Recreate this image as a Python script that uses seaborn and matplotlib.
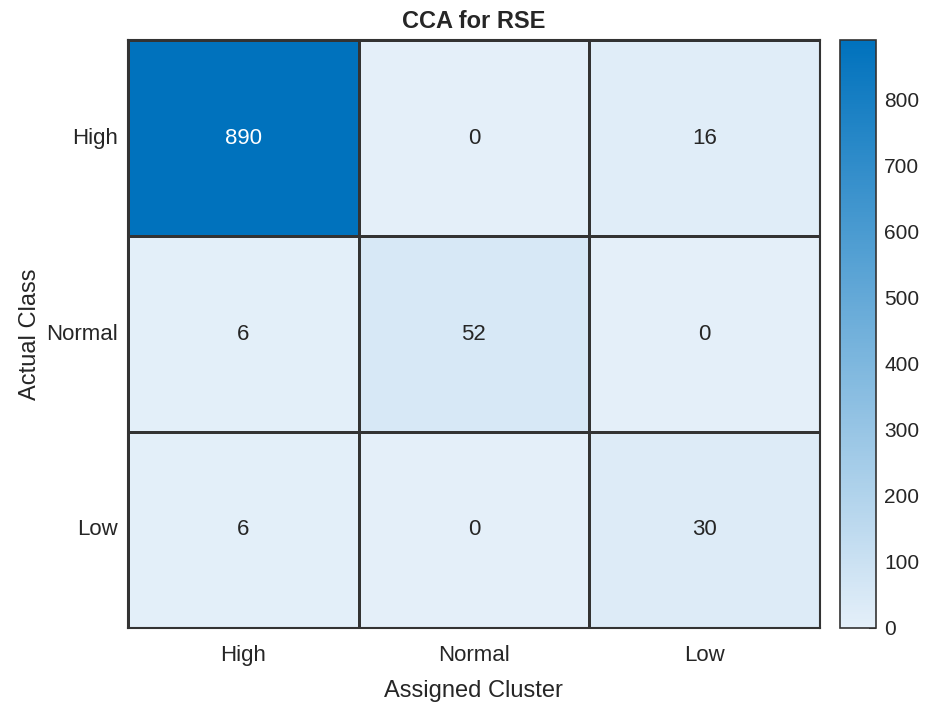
import numpy as np
import pandas as pd
import matplotlib
matplotlib.use("Agg")
import matplotlib.pyplot as plt
from matplotlib.colors import LinearSegmentedColormap
import seaborn as sns

classes = ["High", "Normal", "Low"]
row_high = [890, 0, 16]
row_normal = [6, 52, 0]
row_low = [6, 0, 30]

counts = pd.DataFrame([row_high, row_normal, row_low], index=classes, columns=classes)

sns.set_theme(style="white")
plt.rcParams["font.family"] = ["Liberation Sans", "DejaVu Sans"]

text_color = "#262626"
edge_color = "#333333"
cmap = LinearSegmentedColormap.from_list("blues", ["#E4EFF9", "#0072BD"])

fig = plt.figure(figsize=(9.27, 7.04), dpi=100)
ax = fig.add_axes([0.138, 0.108, 0.7465, 0.835])
cax = fig.add_axes([0.906, 0.108, 0.039, 0.835])

vmax = counts.values.max()
sns.heatmap(counts, ax=ax, cbar_ax=cax, cmap=cmap, vmin=0, vmax=vmax,
            annot=False, linewidths=1.0, linecolor=edge_color, square=False)

# Cell labels: white on dark cells, dark text elsewhere
for i, r in enumerate(classes):
    for j, c in enumerate(classes):
        v = counts.loc[r, c]
        color = "white" if v > 0.6 * vmax else text_color
        ax.text(j + 0.5, i + 0.5, f"{v}", ha="center", va="center",
                fontsize=16, color=color)

for side in ax.spines.values():
    side.set_visible(True)
    side.set_color(edge_color)
    side.set_linewidth(1.5)

ax.tick_params(axis="both", length=0, labelsize=16, colors=text_color)
ax.tick_params(axis="y", pad=7)
ax.tick_params(axis="x", pad=12)
ax.set_yticklabels(classes, rotation=0)
ax.set_xticklabels(classes, rotation=0)
ax.set_xlabel("Assigned Cluster", fontsize=17, color=text_color, labelpad=10)
ax.set_ylabel("Actual Class", fontsize=17, color=text_color, labelpad=4)
ax.set_title("CCA for RSE", fontsize=17, fontweight="bold", color=text_color, pad=9)

cbar = ax.collections[0].colorbar
cbar.set_ticks([0, 100, 200, 300, 400, 500, 600, 700, 800])
cbar.ax.tick_params(direction="in", length=5, width=1.5, color=edge_color,
                    labelsize=15, labelcolor=text_color, pad=6)
cbar.outline.set_visible(True)
cbar.outline.set_edgecolor(edge_color)
cbar.outline.set_linewidth(1.2)

fig.savefig("out.png", dpi=100)
